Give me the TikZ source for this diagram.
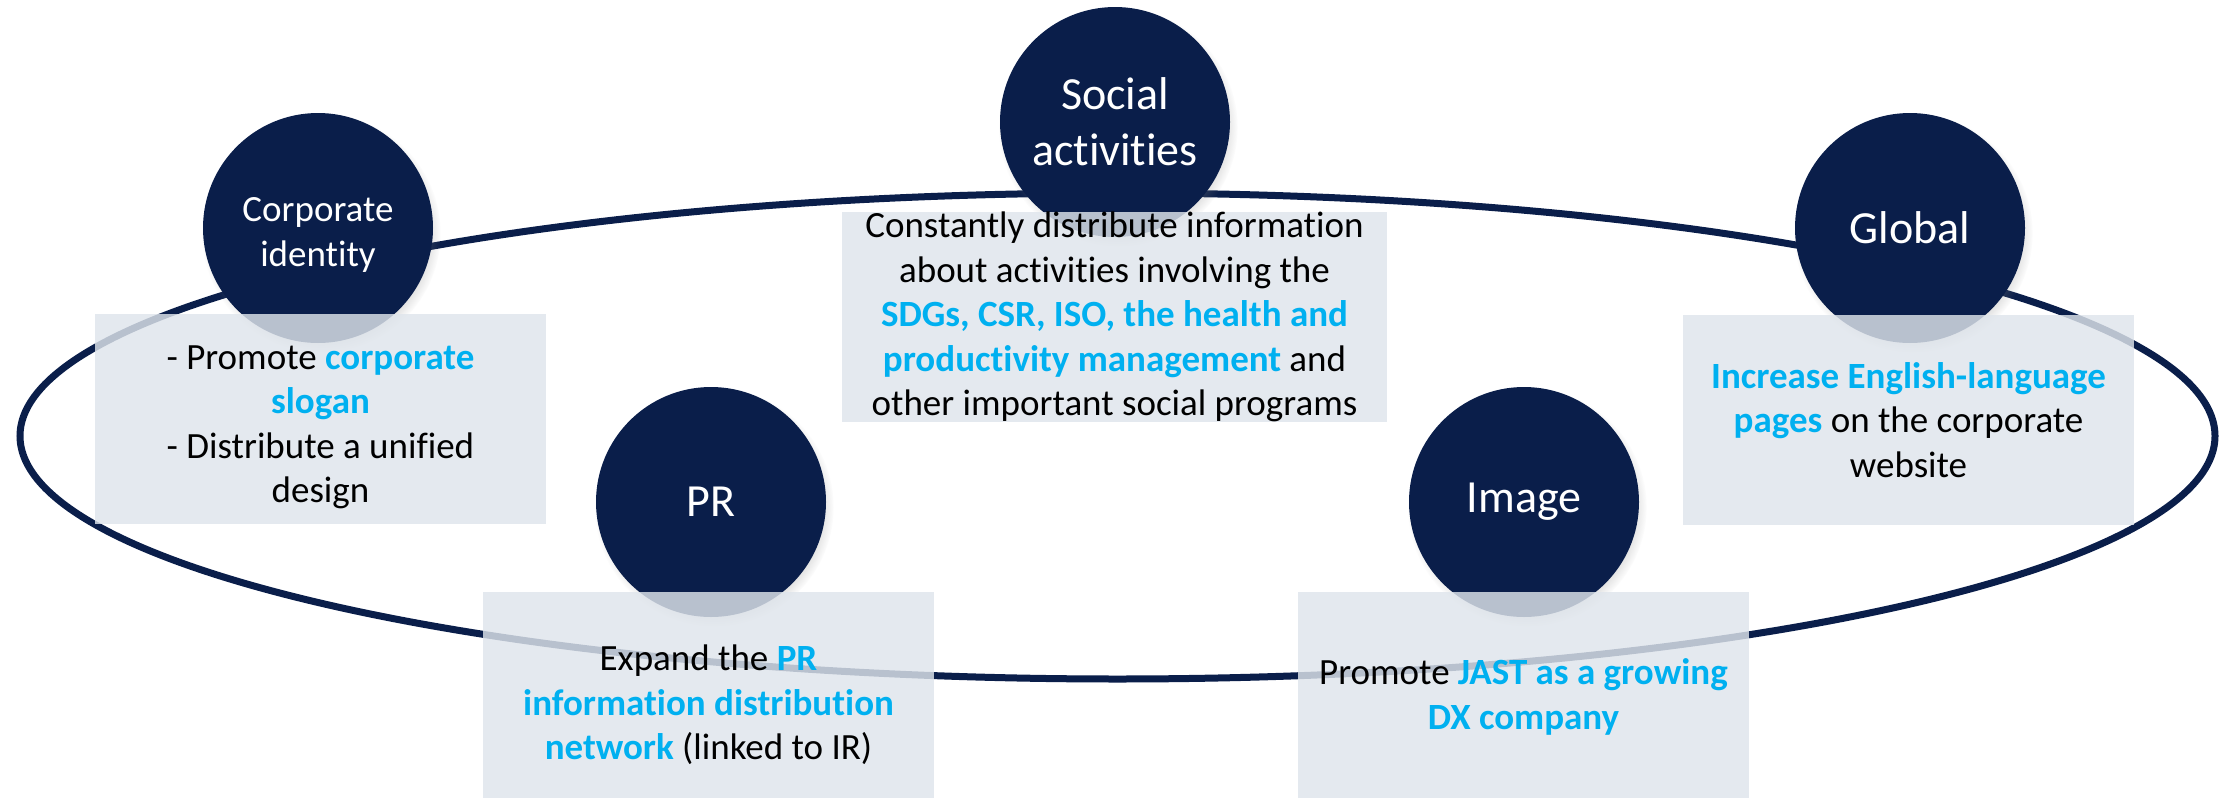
\documentclass[tikz,border=0pt]{standalone}
\usepackage{fontspec}
\setmainfont[RawFeature={-liga;-clig;-dlig;-calt}]{Carlito}
\usetikzlibrary{shadows}
\definecolor{navy}{RGB}{10,30,74}
\definecolor{boxbg}{RGB}{223,229,236}
\definecolor{hl}{RGB}{0,176,240}
\newcommand{\hlt}[1]{\textbf{\color{hl}#1}}
\begin{document}
\begin{tikzpicture}[x=1pt,y=-1pt,
  hub/.style={circle, fill=navy, text=white, minimum size=230pt, inner sep=0pt, align=center,
    circular drop shadow={shadow xshift=3pt, shadow yshift=-5pt, shadow scale=1.04, opacity=0.35}},
  hubbig/.style={hub, font=\fontsize{46}{56}\selectfont},
  hubsmall/.style={hub, font=\fontsize{37}{45.5}\selectfont},
  infobox/.style={rectangle, fill=boxbg, fill opacity=0.82, text opacity=1, minimum width=451pt,
    minimum height=210pt, inner sep=0pt, align=center, font=\fontsize{37}{44.5}\selectfont},
  ring/.style={draw=navy, line width=7pt}]
\useasboundingbox (0,0) rectangle (2231,798);
\fill[white] (0,0) rectangle (2231,798);
% ring
\draw[ring] (1117.5,436) ellipse [x radius=1097.5, y radius=243];
% hubs
\node[hubsmall] (ci) at (318,228) {\rule{0pt}{38pt}Corporate\\identity};
\node[hubbig] (sa) at (1115,122) {Social\\activities};
\node[hubbig] (gl) at (1910,228) {Global};
\node[hubbig] (pr) at (711,502) {PR};
\node[hubbig] (im) at (1524,502) {Image};
% boxes
\node[infobox] (cib) at (320.5,419) {\rule{0pt}{40pt}- Promote \hlt{corporate}\\\hlt{slogan}\\- Distribute a unified\\design};
\node[infobox, minimum width=545pt] (sab) at (1114.5,317) {Constantly distribute information\\about activities involving the\\\hlt{SDGs, CSR, ISO, the health and}\\\hlt{productivity management} and\\other important social programs};
\node[infobox] (glb) at (1908.5,420) {\hlt{Increase English-language}\\\hlt{pages} on the corporate\\website};
\node[infobox] (prb) at (708.5,697) {\rule{0pt}{42pt}Expand the \hlt{PR}\\\hlt{information distribution}\\\hlt{network} (linked to IR)};
\node[infobox] (imb) at (1523.5,697) {Promote \hlt{JAST as a growing}\\\hlt{DX company}};
\end{tikzpicture}
\end{document}
